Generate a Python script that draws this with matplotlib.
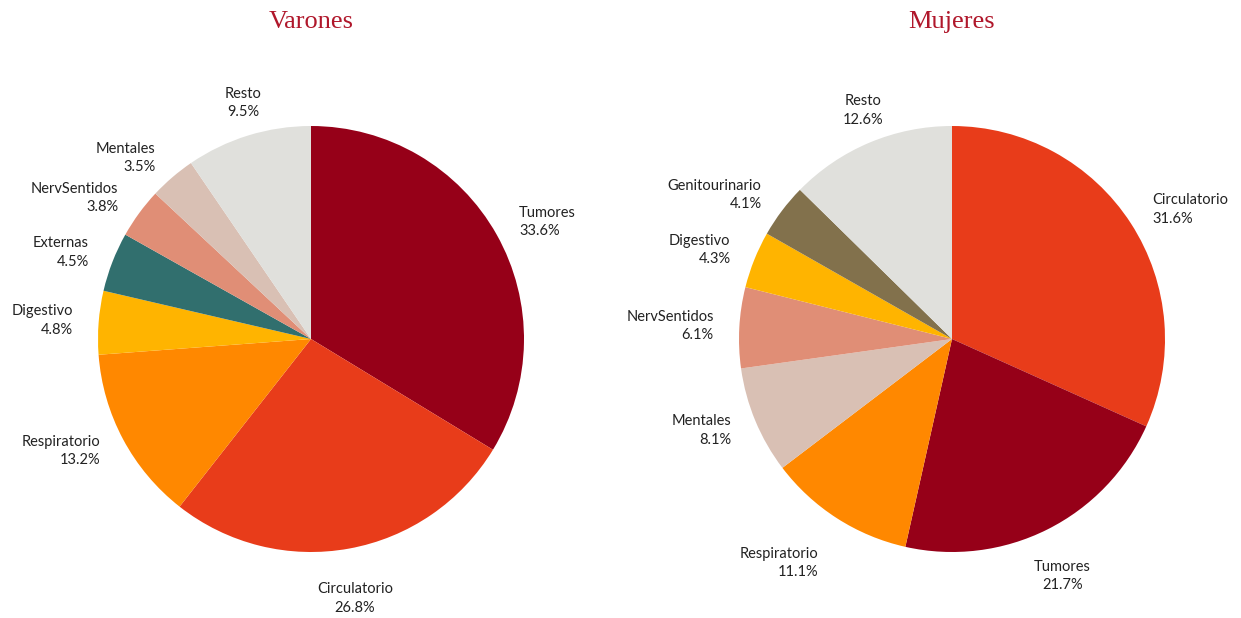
import numpy as np
import matplotlib
matplotlib.use("Agg")
import matplotlib.pyplot as plt

# Varones
men_labels = ["Tumores", "Circulatorio", "Respiratorio", "Digestivo", "Externas",
              "NervSentidos", "Mentales", "Resto"]
men_values = [33.6, 26.8, 13.2, 4.8, 4.5, 3.8, 3.5, 9.5]

# Mujeres
women_labels = ["Circulatorio", "Tumores", "Respiratorio", "Mentales", "NervSentidos",
                "Digestivo", "Genitourinario", "Resto"]
women_values = [31.6, 21.7, 11.1, 8.1, 6.1, 4.3, 4.1, 12.6]

colors = {
    "Tumores": "#960018",
    "Circulatorio": "#E83C1A",
    "Respiratorio": "#FF8800",
    "Digestivo": "#FFB400",
    "Externas": "#316F6E",
    "NervSentidos": "#E08E76",
    "Mentales": "#D9C0B4",
    "Resto": "#E0E0DC",
    "Genitourinario": "#82714C",
}

TITLE_COLOR = "#B0172B"
W, H = 1241, 618


def draw_pie(ax, labels, values, title, cx):
    wedges, _ = ax.pie(values, colors=[colors[l] for l in labels], startangle=90,
                       counterclock=False, radius=1,
                       wedgeprops=dict(linewidth=0))
    ax.set_xlim(-1, 1)
    ax.set_ylim(-1, 1)
    for w, lab, val in zip(wedges, labels, values):
        theta = np.deg2rad((w.theta1 + w.theta2) / 2)
        c, s = np.cos(theta), np.sin(theta)
        if abs(c) < 0.5:
            ha = "center"
        else:
            ha = "left" if c > 0 else "right"
        if s > 0.8:
            va, r = "bottom", 1.08
        elif s < -0.8:
            va, r = "top", 1.16
        else:
            va, r = "center", 1.12
        ax.text(r * c, r * s, f"{lab}\n{val:.1f}%", ha=ha, va=va,
                multialignment=ha,
                fontsize=10.5, family=["Lato", "DejaVu Sans"], color="#222222",
                linespacing=1.4, clip_on=False)
    fig.text(cx / W, 1 - 22 / H, title, ha="center", va="center",
             fontsize=19, family=["Liberation Serif", "DejaVu Serif"],
             color=TITLE_COLOR)


fig = plt.figure(figsize=(W / 100, H / 100), dpi=100)
R = 213
for cx, labs, vals, title in [(311, men_labels, men_values, "Varones"),
                              (952, women_labels, women_values, "Mujeres")]:
    cy = 339
    ax = fig.add_axes([(cx - R) / W, (H - cy - R) / H, 2 * R / W, 2 * R / H])
    draw_pie(ax, labs, vals, title, cx)

fig.savefig("out.png", dpi=100)
